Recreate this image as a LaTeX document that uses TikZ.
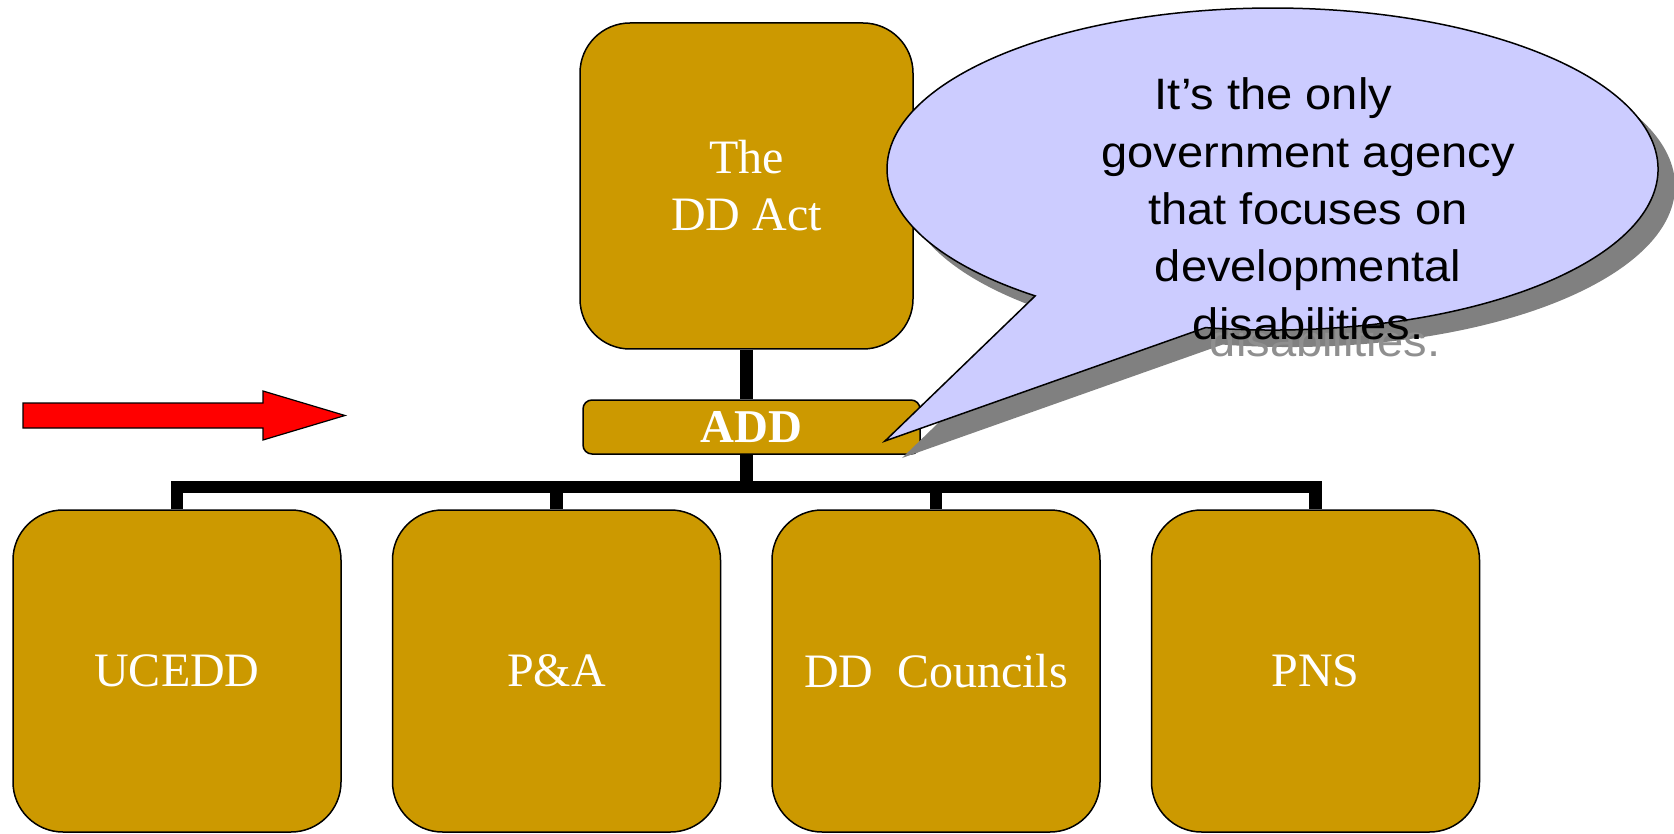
\documentclass[tikz,border=0pt]{standalone}
\usepackage{fontspec}
\setmainfont{Liberation Serif}
\newfontfamily\bubblefont{Liberation Sans}[FakeStretch=1.07]

\newlength{\du}
\setlength{\du}{1\unitlength}

\definecolor{boxfillcolor}{rgb}{0.800000, 0.600000, 0.000000}
\definecolor{bubblefillcolor}{rgb}{0.800000, 0.800000, 1.000000}
\definecolor{shadowcolor}{rgb}{0.500000, 0.500000, 0.500000}
\definecolor{shadowtextcolor}{rgb}{0.560000, 0.560000, 0.560000}
\definecolor{arrowfillcolor}{rgb}{1.000000, 0.000000, 0.000000}

\tikzset{
  unitbox/.style={draw=black, line width=1.5\du, fill=boxfillcolor, text=white,
    rounded corners=50\du, inner sep=0pt, minimum width=328\du, minimum height=322\du,
    align=center, font=\fontsize{48}{57}\selectfont},
  addbox/.style={unitbox, rounded corners=9\du, minimum width=337\du, minimum height=54\du,
    font=\fontsize{47}{56}\selectfont\bfseries},
  trunk/.style={draw=black, line width=12.5\du},
  bubbleline/.style={anchor=base, inner sep=0pt, font=\bubblefont\fontsize{44}{57.5}\selectfont},
}

\begin{document}
\begin{tikzpicture}
\pgftransformxscale{1.000000}
\pgftransformyscale{-1.000000}
\useasboundingbox (0\du,0\du) rectangle (1674\du,834\du);
% red arrow
\filldraw[fill=arrowfillcolor, draw=black, line width=1.2\du] (23\du,403\du) -- (263\du,403\du)
  -- (263\du,391\du) -- (345\du,415.5\du) -- (263\du,440\du) -- (263\du,428\du) -- (23\du,428\du) -- cycle;
% boxes
\node[unitbox, minimum width=333\du, minimum height=326\du] (act) at (746.5\du,186\du) {The\\DD Act};
\node[addbox] (add) at (751.5\du,427\du) {ADD};
\node[unitbox] (ucedd) at (177\du,671\du) {UCEDD};
\node[unitbox] (pa) at (556.5\du,671\du) {P\&A};
\node[unitbox] (councils) at (936\du,671\du) {DD\ \ Councils};
\node[unitbox] (pns) at (1315.5\du,671\du) {PNS};
\coordinate (bar) at (746.5\du,487\du);
% tree lines
\draw[trunk] (act.south) -- (act.south |- add.north);
\draw[trunk] (add.south -| bar) -- (bar);
\draw[trunk] (ucedd.north) |- (bar) -| (pns.north);
\draw[trunk] (bar -| pa.north) -- (pa.north);
\draw[trunk] (bar -| councils.north) -- (councils.north);
% callout shadow
\begin{scope}[shift={(17\du,17\du)}]
\fill[shadowcolor] (1035.2\du,295.9\du) arc[start angle=128, end angle=460, x radius=385.5\du, y radius=161\du]
  -- (885\du,441\du) -- cycle;
\node[bubbleline, text=shadowtextcolor] (shade5) at (1308\du,340\du) {disabilities.};
\end{scope}
% callout
\filldraw[fill=bubblefillcolor, draw=black, line width=1.5\du] (1035.2\du,295.9\du)
  arc[start angle=128, end angle=460, x radius=385.5\du, y radius=161\du] -- (885\du,441\du) -- cycle;
\foreach \tx/\ty/\words [count=\i] in {1273.5/110/{It’s the only}, 1308/168/{government agency},
    1308/225/{that focuses on}, 1308/282/{developmental}, 1308/340/{disabilities.}}
  \node[bubbleline] (line\i) at (\tx\du,\ty\du) {\words};
\end{tikzpicture}
\end{document}
